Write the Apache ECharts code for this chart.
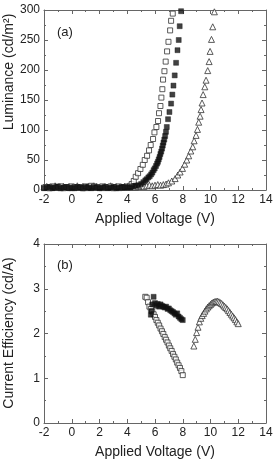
<!DOCTYPE html>
<html>
<head>
<meta charset="utf-8">
<script src="https://cdn.jsdelivr.net/npm/echarts@6/dist/echarts.min.js"></script>
<style>
  html, body { margin: 0; padding: 0; background: #fff; }
  #chart { width: 276px; height: 460px; }
</style>
</head>
<body>
<div id="chart"></div>
<script>
// (a) luminance vs voltage
const openV_a = [-2.0,-1.8,-1.6,-1.4,-1.2,-1.0,-0.8,-0.6,-0.4,-0.2,0,0.2,0.4,0.6,0.8,1.0,1.2,1.4,1.6,1.8,2.0,2.2,2.4,2.6,2.8,3.0,3.2,3.4,3.6,3.8,4.0,4.2,
  4.32,4.47,4.61,4.78,4.95,5.12,5.26,5.43,5.57,5.69,5.86,5.96,6.10,6.22,6.29,6.39,6.46,6.53,6.58,6.68,6.77,6.87,6.97,7.09,7.16,7.28]
const openL_a = [4,5,3,6,4,5,6,3,5,4,6,5,4,5,3,6,5,7,6,4,5,6,4,5,6,3,5,6,4,5,6,7,
  10,15,22,28,35,42,50,57,66,75,85,96,105,115,128,140,154,168,184,198,214,231,247,266,282,294]

const fillV_a = [-2.0,-1.8,-1.6,-1.4,-1.2,-1.0,-0.8,-0.6,-0.4,-0.2,0,0.2,0.4,0.6,0.8,1.0,1.2,1.4,1.6,1.8,2.0,2.2,2.4,2.6,2.8,3.0,3.2,3.4,3.6,3.8,4.0,4.2,4.4,4.6,4.8,5.0,
  5.16,5.3,5.4,5.52,5.62,5.72,5.81,5.9,5.98,6.07,6.15,6.21,6.27,6.33,6.39,6.45,6.51,6.56,6.61,6.67,6.73,6.79,6.85,6.94,7.04,7.16,7.25,7.33,7.42,7.52,7.62,7.71,7.78,7.88]
const fillL_a = [3,4,5,3,4,6,3,4,5,3,4,3,5,4,3,5,4,3,5,4,3,4,5,3,4,5,3,4,5,4,5,4,6,7,8,10,
  13,16,18,21,23,26,29,33,36,40,44,47,51,55,60,64,69,74,79,84,90,97,105,118,130,144,159,174,191,212,233,250,273,298]

const triV_a = [-2.0,-1.8,-1.6,-1.4,-1.2,-1.0,-0.8,-0.6,-0.4,-0.2,0,0.2,0.4,0.6,0.8,1.0,1.2,1.4,1.6,1.8,2.0,2.2,2.4,2.6,2.8,3.0,3.2,3.4,3.6,3.8,4.0,4.2,4.4,4.6,4.8,5.0,5.2,5.4,5.6,5.8,6.0,6.2,6.4,6.6,6.8,
  6.97,7.21,7.45,7.64,7.81,7.98,8.14,8.29,8.43,8.58,8.72,8.82,8.96,9.06,9.15,9.25,9.32,9.39,9.47,9.59,9.68,9.80,9.90,9.97,10.07,10.16,10.28]
const triL_a = [5,6,4,5,7,5,4,6,5,6,4,5,7,5,6,4,6,5,7,6,5,4,6,5,7,5,6,4,5,6,5,7,6,5,6,7,6,7,8,7,8,9,8,9,10,
  12,15,19,25,30,36,43,50,57,65,72,82,91,101,113,123,134,145,159,172,183,199,214,231,251,272,297]

// (b) current efficiency vs voltage
const openV_b = [5.3,5.4,5.5,5.6,5.7,5.8,5.9,6.0,6.1,6.2,6.3,6.4,6.5,6.6,6.7,6.8,6.9,7.0,7.1,7.2,7.3,7.4,7.5,7.6,7.7,7.8,7.9,8.0]
const openE_b = [2.82,2.80,2.70,2.60,2.55,2.49,2.43,2.37,2.30,2.24,2.18,2.11,2.05,1.99,1.92,1.86,1.80,1.73,1.67,1.61,1.54,1.48,1.42,1.35,1.29,1.23,1.16,1.07]

const fillV_b = [5.7,5.75,5.8,5.9,6.0,6.1,6.2,6.3,6.4,6.5,6.6,6.7,6.8,6.9,7.0,7.1,7.2,7.3,7.4,7.5,7.6,7.7,7.8,7.9,8.0]
const fillE_b = [2.42,2.50,2.65,2.82,2.68,2.62,2.66,2.60,2.65,2.62,2.60,2.58,2.60,2.55,2.56,2.52,2.50,2.48,2.45,2.42,2.45,2.38,2.35,2.32,2.30]

const triV_b = [8.8,8.9,9.0,9.1,9.2,9.3,9.4,9.5,9.6,9.7,9.8,9.9,10.0,10.1,10.2,10.3,10.4,10.5,10.6,10.7,10.8,10.9,11.0,11.1,11.2,11.3,11.4,11.5,11.6,11.7,11.8,11.9,12.0]
const triE_b = [1.72,1.87,2.02,2.14,2.26,2.34,2.40,2.45,2.50,2.55,2.59,2.62,2.65,2.68,2.70,2.71,2.72,2.72,2.71,2.69,2.67,2.64,2.61,2.58,2.55,2.51,2.47,2.43,2.39,2.35,2.31,2.26,2.22]

const xTicks = [-2, 14, 2]
const yTicksA = [0, 300, 50]
const yTicksB = [0, 4, 1]

function pairs(xs, ys) {
  return xs.map((x, i) => [x, ys[i]])
}

const textColor = '#222'
const lineColor = '#666'
const font = 'Liberation Sans, Arial, sans-serif'

function xAxis(grid, pos, showLabel) {
  return {
    type: 'value', gridIndex: grid, position: pos,
    min: xTicks[0], max: xTicks[1], interval: xTicks[2],
    name: showLabel ? 'Applied Voltage (V)' : '',
    nameLocation: 'middle', nameGap: 22,
    nameTextStyle: { color: textColor, fontSize: 14, fontFamily: font },
    axisLine: { onZero: false, lineStyle: { color: lineColor, width: 1 } },
    axisTick: { inside: true, length: 4, lineStyle: { color: lineColor } },
    minorTick: { show: true, splitNumber: 2, length: 2, lineStyle: { color: lineColor } },
    axisLabel: { show: showLabel, color: textColor, fontSize: 12, fontFamily: font, margin: 4 },
    splitLine: { show: false }
  }
}

function yAxis(grid, pos, ticks, showLabel) {
  return {
    type: 'value', gridIndex: grid, position: pos,
    min: ticks[0], max: ticks[1], interval: ticks[2],
    axisLine: { onZero: false, lineStyle: { color: lineColor, width: 1 } },
    axisTick: { inside: true, length: 4, lineStyle: { color: lineColor } },
    minorTick: { show: true, splitNumber: 2, length: 2, lineStyle: { color: lineColor } },
    axisLabel: { show: showLabel, color: textColor, fontSize: 12, fontFamily: font, margin: 4 },
    splitLine: { show: false }
  }
}

const openStyle = { color: '#fff', borderColor: '#333', borderWidth: 1 }
const fillStyle = { color: '#111', borderColor: '#111', borderWidth: 0.5 }

function scatter(data, grid, symbol, style, size) {
  return {
    type: 'scatter', data: data,
    xAxisIndex: grid * 2, yAxisIndex: grid * 2,
    symbol: symbol, symbolSize: size, itemStyle: style,
    animation: false, silent: true
  }
}

function yTitle(text, x, y) {
  return {
    type: 'text', x: x, y: y, rotation: Math.PI / 2,
    style: { text: text, fill: textColor, fontSize: 14, fontFamily: font, align: 'center', verticalAlign: 'middle' }
  }
}

const chart = echarts.init(document.getElementById('chart'), null, { renderer: 'canvas' })

chart.setOption({
  backgroundColor: '#fff',
  grid: [
    { left: 44, top: 10, width: 222, height: 180 },
    { left: 44, top: 244, width: 222, height: 180 }
  ],
  xAxis: [xAxis(0, 'bottom', true), xAxis(0, 'top', false), xAxis(1, 'bottom', true), xAxis(1, 'top', false)],
  yAxis: [yAxis(0, 'left', yTicksA, true), yAxis(0, 'right', yTicksA, false),
          yAxis(1, 'left', yTicksB, true), yAxis(1, 'right', yTicksB, false)],
  graphic: [
    yTitle('Luminance (cd/m²)', 9, 72),
    yTitle('Current Efficiency (cd/A)', 9, 333),
    { type: 'text', left: 57, top: 26, style: { text: '(a)', fill: textColor, fontSize: 13, fontFamily: font } },
    { type: 'text', left: 57, top: 259, style: { text: '(b)', fill: textColor, fontSize: 13, fontFamily: font } }
  ],
  series: [
    scatter(pairs(triV_a, triL_a), 0, 'triangle', openStyle, 6),
    scatter(pairs(openV_a, openL_a), 0, 'rect', openStyle, 5),
    scatter(pairs(fillV_a, fillL_a), 0, 'rect', fillStyle, 5),
    scatter(pairs(triV_b, triE_b), 1, 'triangle', openStyle, 6),
    scatter(pairs(openV_b, openE_b), 1, 'rect', openStyle, 5),
    scatter(pairs(fillV_b, fillE_b), 1, 'rect', fillStyle, 5)
  ]
})
</script>
</body>
</html>
